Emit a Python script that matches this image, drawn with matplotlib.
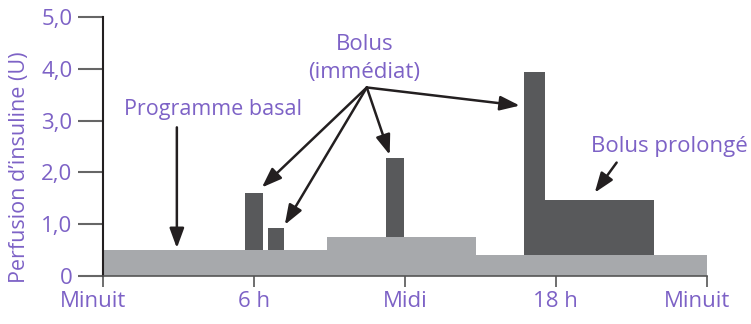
import matplotlib
matplotlib.use("Agg")
import matplotlib.pyplot as plt
from matplotlib.transforms import ScaledTranslation

# basal programme (start hour, duration, rate)
basal_start = [0, 8.9, 14.85]
basal_width = [8.9, 5.95, 9.15]
basal_rate = [0.5, 0.75, 0.4]

# immediate boluses (start hour, duration, top value)
bolus_start = [5.65, 6.55, 11.25, 16.75]
bolus_width = [0.72, 0.65, 0.72, 0.84]
bolus_top = [1.6, 0.93, 2.27, 3.94]
bolus_base = [0.5, 0.5, 0.75, 0.4]

# extended bolus
ext_start = [17.59]
ext_width = [4.31]
ext_top = [1.47]
ext_base = [0.4]

xtick_pos = [0, 6, 12, 18, 24]
xtick_lab = ["Minuit", "6 h", "Midi", "18 h", "Minuit"]
ytick_pos = [0, 1, 2, 3, 4, 5]
ytick_lab = ["0", "1,0", "2,0", "3,0", "4,0", "5,0"]

PURPLE = "#7d62c6"
LIGHT = "#a7a9ac"
DARK = "#58595b"
INK = "#231f20"
FS = 16

plt.rcParams['font.family'] = ['Open Sans', 'DejaVu Sans']


def main():
    fig = plt.figure(figsize=(7.51, 3.24), dpi=100)
    ax = fig.add_axes([0.137, 0.148, 0.804, 0.7995])

    ax.bar(basal_start, basal_rate, width=basal_width, align="edge",
           color=LIGHT, linewidth=0)
    ax.bar(bolus_start, [t - b for t, b in zip(bolus_top, bolus_base)],
           bottom=bolus_base, width=bolus_width, align="edge",
           color=DARK, linewidth=0)
    ax.bar(ext_start, [t - b for t, b in zip(ext_top, ext_base)],
           bottom=ext_base, width=ext_width, align="edge",
           color=DARK, linewidth=0)

    ax.set_xlim(0, 24)
    ax.set_ylim(0, 5)
    for s in ["top", "right"]:
        ax.spines[s].set_visible(False)
    ax.spines["left"].set_color(INK)
    ax.spines["bottom"].set_color("#555555")
    ax.spines["left"].set_linewidth(1.5)
    ax.spines["bottom"].set_linewidth(1.2)

    ax.set_xticks(xtick_pos)
    ax.set_xticklabels(xtick_lab)
    ax.set_yticks(ytick_pos)
    ax.set_yticklabels(ytick_lab)
    ax.tick_params(axis="y", length=18, width=1.5, color="#666666",
                   labelcolor=PURPLE, labelsize=FS, pad=4)
    ax.tick_params(axis="x", length=8, width=1.2, color="#555555",
                   labelcolor=PURPLE, labelsize=FS, pad=3)
    # the two "Minuit" labels sit a bit left of their ticks
    shift = ScaledTranslation(-10 / 100, 0, fig.dpi_scale_trans)
    labels = ax.get_xticklabels()
    for lab in (labels[0], labels[-1]):
        lab.set_transform(lab.get_transform() + shift)

    ax.set_ylabel("Perfusion d\u2019insuline (U)", color=PURPLE, fontsize=15.5)
    ax.yaxis.set_label_coords(-0.121, 0.42)

    arrow = dict(arrowstyle="-|>,head_length=0.6,head_width=0.22",
                 mutation_scale=20, lw=1.8, color=INK,
                 shrinkA=0, shrinkB=0)

    ax.text(4.37, 3.22, "Programme basal", color=PURPLE, fontsize=15.5,
            ha="center", va="center")
    ax.annotate("", xy=(2.94, 0.54), xytext=(2.94, 2.87), arrowprops=arrow)

    ax.text(10.4, 4.2, "Bolus\n(immédiat)", color=PURPLE, fontsize=FS,
            ha="center", va="center", linespacing=1.4)
    apex = (10.49, 3.64)
    for tgt in [(6.32, 1.71), (7.23, 0.99), (11.40, 2.34), (16.57, 3.29)]:
        ax.annotate("", xy=tgt, xytext=apex, arrowprops=arrow)

    ax.text(22.53, 2.50, "Bolus prolongé", color=PURPLE, fontsize=FS,
            ha="center", va="center", clip_on=False)
    ax.annotate("", xy=(19.55, 1.61), xytext=(20.42, 2.19), arrowprops=arrow)

    fig.savefig("out.png", dpi=100)


if __name__ == '__main__':
    main()
